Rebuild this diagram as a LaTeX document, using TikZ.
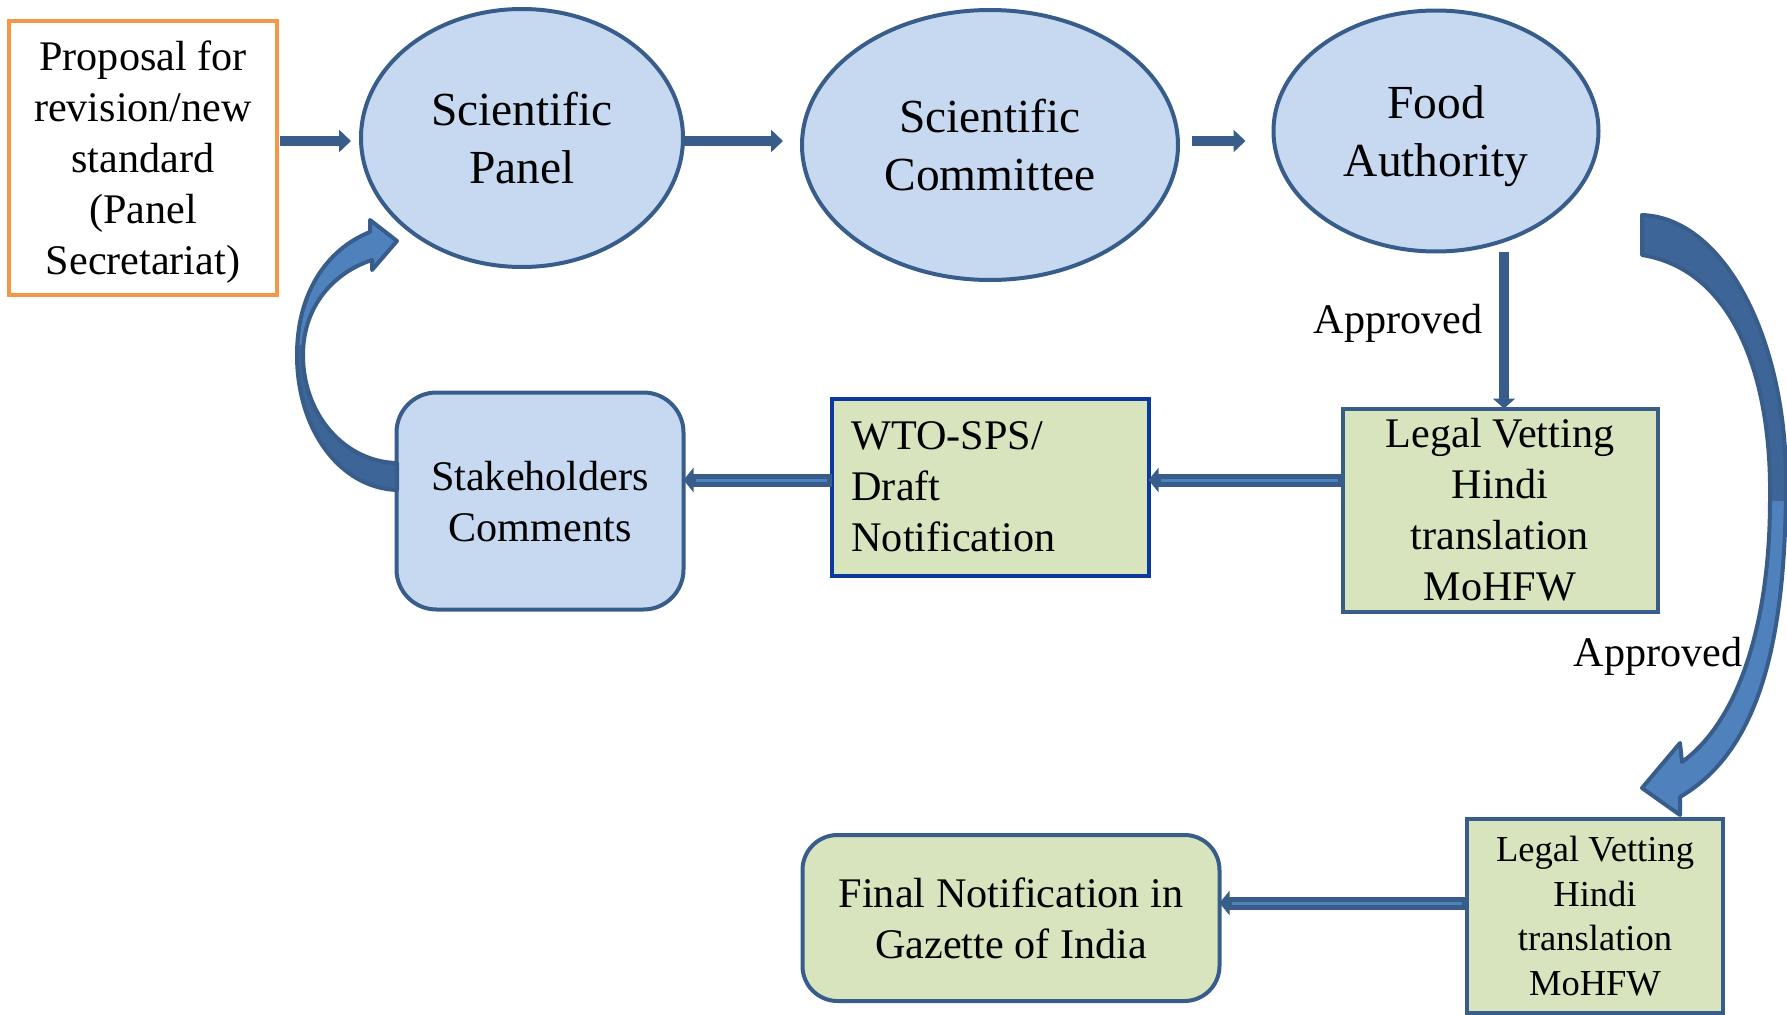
\documentclass[tikz,border=0pt]{standalone}
\usepackage{fontspec}
\setmainfont{Liberation Serif}
\usepackage{tikz}
\usetikzlibrary{arrows.meta,calc,positioning,shapes.geometric}
\definecolor{fillblue}{HTML}{C6D9F1}
\definecolor{fillgreen}{HTML}{D7E4BD}
\definecolor{edge}{HTML}{385D8A}
\definecolor{navy}{HTML}{0B3A9C}
\definecolor{orange}{HTML}{F79646}
\definecolor{arrlight}{HTML}{4F81BD}
\definecolor{arrdark}{HTML}{3E6598}
\newcommand{\backbend}{(397,490) .. controls (340,488) and (297,430) .. (297,355) .. controls (297,295) and (325,250) .. (370,232) -- (370,220) -- (397,241) -- (372,270) -- (372,260) .. controls (335,272) and (303,305) .. (303,355) .. controls (303,415) and (345,462) .. (397,463) -- cycle}
\newcommand{\downbend}{(1642,215) .. controls (1725,218) and (1786,340) .. (1786,480) .. controls (1786,640) and (1760,750) .. (1680,797) -- (1680,815) -- (1642,788) -- (1680,743) -- (1682,762) .. controls (1740,720) and (1770,620) .. (1770,500) .. controls (1772,380) and (1735,270) .. (1642,255) -- cycle}

\begin{document}
\begin{tikzpicture}[x=0.1mm,y=-0.1mm, every node/.style={align=center,inner sep=0pt,outer sep=0pt,font=\fontsize{12}{14.5}\selectfont},
  oval/.style={ellipse,draw=edge,line width=0.4mm,fill=fillblue,font=\fontsize{13.5}{16.5}\selectfont},
  box/.style={rectangle,draw=edge,line width=0.4mm,fill=#1},
  arr/.style={draw=edge,line width=1mm,-{Triangle[length=1.2mm,width=2.2mm]}},
  flow/.style={draw=edge,line width=1.3mm,-{Triangle[length=1mm,width=2.4mm]},postaction={draw=arrlight,line width=0.3mm,-,shorten >=1.2mm,shorten <=0.5mm}},
  curl/.style={draw=edge,line width=0.4mm,line join=round}]
  \useasboundingbox (0,0) rectangle (1787,1015);
  \node[draw=orange,line width=0.4mm,fill=white,text depth=0pt,minimum width=26.8mm,minimum height=27.4mm] (prop) at (143,158) {Proposal for\\revision/new\\standard\\(Panel\\Secretariat)};
  \node[oval,minimum width=32.2mm,minimum height=25.8mm] (panel) at (522,138) {Scientific\\Panel};
  \node[oval,minimum width=37.6mm,minimum height=27mm] (comm) at (990,145) {Scientific\\Committee};
  \node[oval,text depth=0pt,minimum width=32.5mm,minimum height=24.1mm] (food) at (1436,131) {Food\\Authority};
  \node[box=fillgreen,minimum width=31.5mm,minimum height=20.3mm] (legal) at (1500,510) {Legal Vetting\\Hindi\\translation\\MoHFW};
  \node[box=fillgreen,draw=navy,text width=27.7mm,inner xsep=2mm,align=left,minimum height=17.7mm] (wto) at (990,487) {WTO-SPS/\\Draft\\Notification};
  \node[box=fillblue,rounded corners=4mm,text depth=0pt,minimum width=28.7mm,minimum height=21.7mm] (stake) at (540,501) {Stakeholders\\Comments};
  \node[box=fillgreen,rounded corners=3.5mm,minimum width=41.7mm,minimum height=16.6mm] (final) at (1011,918) {Final Notification in\\Gazette of India};
  \node[box=fillgreen,minimum width=25.6mm,minimum height=19.4mm,font=\fontsize{10.4}{12.7}\selectfont] (legalb) at (1595,916) {Legal Vetting\\Hindi\\translation\\MoHFW};
  \node (ok) at (1398,323) {Approved};
  \node (okb) at (1658,656) {Approved};
  \draw[arr,shorten <=0.3mm,shorten >=1mm] ([yshift=-0.3mm]prop.east |- panel.west) -- ([yshift=-0.3mm]panel.west);
  \draw[arr,shorten >=1.9mm] ([yshift=-0.3mm]panel.east) -- ([yshift=-0.3mm]comm.west |- panel.east);
  \draw[arr,shorten <=1.4mm,shorten >=2.8mm] ([yshift=0.4mm]comm.east) -- ([yshift=0.4mm]food.west |- comm.east);
  \draw[arr,-{Triangle[length=1mm,width=2.2mm]}] ([xshift=0.4mm]legal.north |- food.south) -- ([xshift=0.4mm]legal.north);
  \draw[flow] ([yshift=0.7mm]wto.east -| legal.west) -- ([yshift=0.7mm]wto.east);
  \draw[flow] ([yshift=0.7mm]wto.west) -- ([yshift=0.7mm]wto.west -| stake.east);
  \draw[flow] ([yshift=1.5mm]final.east -| legalb.west) -- ([yshift=1.5mm]final.east);
  \fill[arrlight] \backbend;
  \begin{scope}
    \clip (250,345) rectangle (420,520);
    \fill[arrdark] \backbend;
  \end{scope}
  \draw[curl] \backbend;
  \fill[arrlight] \downbend;
  \begin{scope}
    \clip (1600,150) rectangle (1800,500);
    \fill[arrdark] \downbend;
  \end{scope}
  \draw[curl] \downbend;
\end{tikzpicture}
\end{document}
